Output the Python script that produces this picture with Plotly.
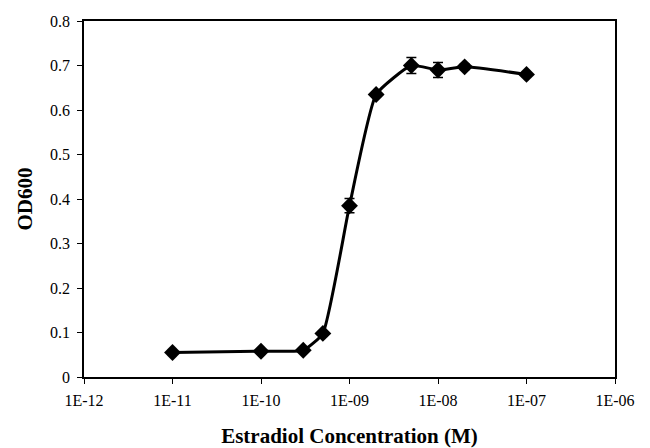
import plotly.graph_objects as go

conc = [1e-11, 1e-10, 3e-10, 5e-10, 1e-9, 2e-9, 5e-9, 1e-8, 2e-8, 1e-7]
od600 = [0.055, 0.058, 0.060, 0.098, 0.385, 0.635, 0.700, 0.690, 0.697, 0.680]
err = [0.003, 0.003, 0.003, 0.004, 0.016, 0.005, 0.018, 0.017, 0.006, 0.004]
xticks = [1e-12, 1e-11, 1e-10, 1e-9, 1e-8, 1e-7, 1e-6]
xticklabels = ["1E-12", "1E-11", "1E-10", "1E-09", "1E-08", "1E-07", "1E-06"]
yticks = [0, 0.1, 0.2, 0.3, 0.4, 0.5, 0.6, 0.7, 0.8]
yticklabels = ["0", "0.1", "0.2", "0.3", "0.4", "0.5", "0.6", "0.7", "0.8"]

font = "'Liberation Serif', 'Times New Roman', Times, serif"

fig = go.Figure()
fig.add_trace(go.Scatter(
    x=conc, y=od600, mode="lines+markers",
    line=dict(color="black", width=3, shape="spline", smoothing=0.45),
    marker=dict(symbol="diamond", size=13, color="black"),
    error_y=dict(type="data", array=err, color="black", thickness=1.5, width=5),
    showlegend=False,
))

fig.update_layout(
    width=650, height=448,
    margin=dict(l=84, r=35, t=21, b=71, autoexpand=False),
    paper_bgcolor="white", plot_bgcolor="white",
    font=dict(family=font, size=16, color="black"),
    xaxis=dict(
        type="log", range=[-12, -6], automargin=False,
        tickvals=xticks, ticktext=xticklabels,
        tickfont=dict(family=font, size=16, color="black"),
        ticklabelstandoff=3,
        showgrid=False, zeroline=False,
        showline=True, linecolor="black", linewidth=1.5, mirror=True,
        ticks="outside", ticklen=5, tickcolor="black",
        title=dict(text="<b>Estradiol Concentration (M)</b>", font=dict(size=21, family=font), standoff=28),
    ),
    yaxis=dict(
        range=[0, 0.8], automargin=False,
        tickvals=yticks, ticktext=yticklabels,
        tickfont=dict(family=font, size=16, color="black"),
        ticklabelstandoff=4,
        showgrid=False, zeroline=False,
        showline=True, linecolor="black", linewidth=1.5, mirror=True,
        ticks="outside", ticklen=5, tickcolor="black",
        title=dict(text="<b>OD600</b>", font=dict(size=21, family=font), standoff=12),
    ),
)

fig.write_html("out.html")
